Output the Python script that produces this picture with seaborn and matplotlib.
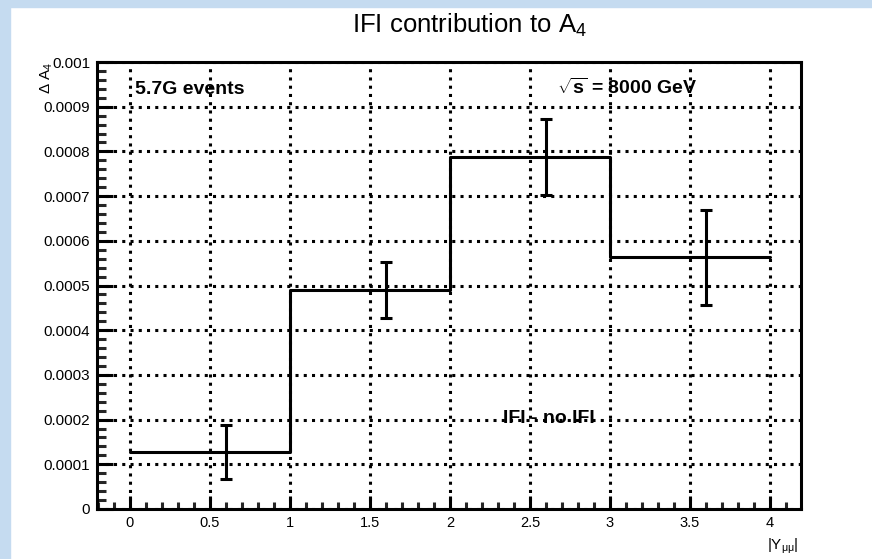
import numpy as np
import pandas as pd
import matplotlib
matplotlib.use("Agg")
import matplotlib.pyplot as plt
import seaborn as sns
from matplotlib.ticker import MultipleLocator, FixedLocator, FixedFormatter
from matplotlib.patches import Rectangle

# ---- data ----
bin_edges = [0, 1, 2, 3, 4]
delta_a4 = [1.27e-4, 4.90e-4, 7.87e-4, 5.63e-4]
errbar_x = [0.6, 1.6, 2.6, 3.6]
delta_a4_err = [0.61e-4, 0.635e-4, 0.85e-4, 1.07e-4]
x_ticks = [0, 0.5, 1, 1.5, 2, 2.5, 3, 3.5, 4]
x_ticklabels = ["0", "0.5", "1", "1.5", "2", "2.5", "3", "3.5", "4"]
y_ticks = [0, 1e-4, 2e-4, 3e-4, 4e-4, 5e-4, 6e-4, 7e-4, 8e-4, 9e-4, 1e-3]
y_ticklabels = ["0", "0.0001", "0.0002", "0.0003", "0.0004", "0.0005",
                "0.0006", "0.0007", "0.0008", "0.0009", "0.001"]

sns.set_style("white")
plt.rcParams['font.family'] = ['Liberation Sans', 'DejaVu Sans']
plt.rcParams['text.color'] = 'black'
plt.rcParams['axes.labelcolor'] = 'black'
plt.rcParams['mathtext.fontset'] = 'custom'
plt.rcParams['mathtext.rm'] = 'Liberation Sans'
plt.rcParams['mathtext.it'] = 'Liberation Sans'
plt.rcParams['mathtext.bf'] = 'Liberation Sans:bold'

W, H = 872, 559
fig = plt.figure(figsize=(W / 100, H / 100), dpi=100)
fig.patch.set_facecolor('white')
blue = '#C5DBF0'
fig.patches.append(Rectangle((0, 0), 10 / W, 1, transform=fig.transFigure, color=blue, zorder=0))
fig.patches.append(Rectangle((0, 1 - 7 / H), 1, 7 / H, transform=fig.transFigure, color=blue, zorder=0))

left, right, top, bottom = 97, 801, 62, 509
ax = fig.add_axes([left / W, 1 - bottom / H, (right - left) / W, (bottom - top) / H])
ax.set_facecolor('white')

step_df = pd.DataFrame({"x": bin_edges, "y": delta_a4 + [delta_a4[-1]]})
sns.lineplot(data=step_df, x="x", y="y", drawstyle='steps-post', color='black',
             linewidth=2.2, ax=ax, zorder=3)
ax.errorbar(errbar_x, delta_a4, yerr=delta_a4_err, fmt='none', ecolor='black',
            elinewidth=2.2, capsize=4, capthick=2.2, zorder=3)

ax.set_xlim(-0.206, 4.194)
ax.set_ylim(0, 0.001)

ax.xaxis.set_major_locator(FixedLocator(x_ticks))
ax.xaxis.set_major_formatter(FixedFormatter(x_ticklabels))
ax.xaxis.set_minor_locator(MultipleLocator(0.1))
ax.yaxis.set_major_locator(FixedLocator(y_ticks))
ax.yaxis.set_major_formatter(FixedFormatter(y_ticklabels))
ax.yaxis.set_minor_locator(MultipleLocator(2e-5))

ax.grid(True, which='major', color='black', linestyle=(0, (1, 1.7)), linewidth=2.2, zorder=1)
ax.set_axisbelow(True)

for s in ax.spines.values():
    s.set_linewidth(2.2)
    s.set_color('black')
    s.set_zorder(4)

ax.tick_params(axis='x', which='major', direction='in', length=9.5, width=2.2,
               bottom=True, top=False, labelsize=10.5, pad=5, colors='black')
ax.tick_params(axis='x', which='minor', direction='in', length=5, width=2.2,
               bottom=True, top=False)
ax.tick_params(axis='y', which='major', direction='in', length=11.5, width=2.2,
               left=True, right=False, labelsize=11, pad=5, colors='black')
ax.tick_params(axis='y', which='minor', direction='in', length=6.5, width=2.2,
               left=True, right=False)
ax.set_xlabel("")
ax.set_ylabel("")

# axis titles
ax.text(0.996, -0.062, r"|Y$_{\mu\mu}$|", transform=ax.transAxes, ha='right', va='top', fontsize=11)
ax.text(-0.072, 1.0, r"Δ A$_{4}$", transform=ax.transAxes, rotation=90, ha='center', va='top', fontsize=11)

# annotations
ax.text(0.054, 0.928, "5.7G events", transform=ax.transAxes, fontsize=14, fontweight='bold',
        ha='left', va='baseline')
ax.text(0.653, 0.928, r"$\sqrt{\mathbf{s}}$ = 8000 GeV", transform=ax.transAxes, fontsize=14,
        fontweight='bold', ha='left', va='baseline')
ax.text(0.577, 0.192, "IFI - no IFI", transform=ax.transAxes, fontsize=14, fontweight='bold',
        ha='left', va='baseline')

fig.text(470 / W, 1 - 33 / H, r"IFI contribution to A$_{4}$", fontsize=18.5, ha='center', va='baseline')

fig.savefig("out.png", dpi=100, facecolor=fig.get_facecolor())
